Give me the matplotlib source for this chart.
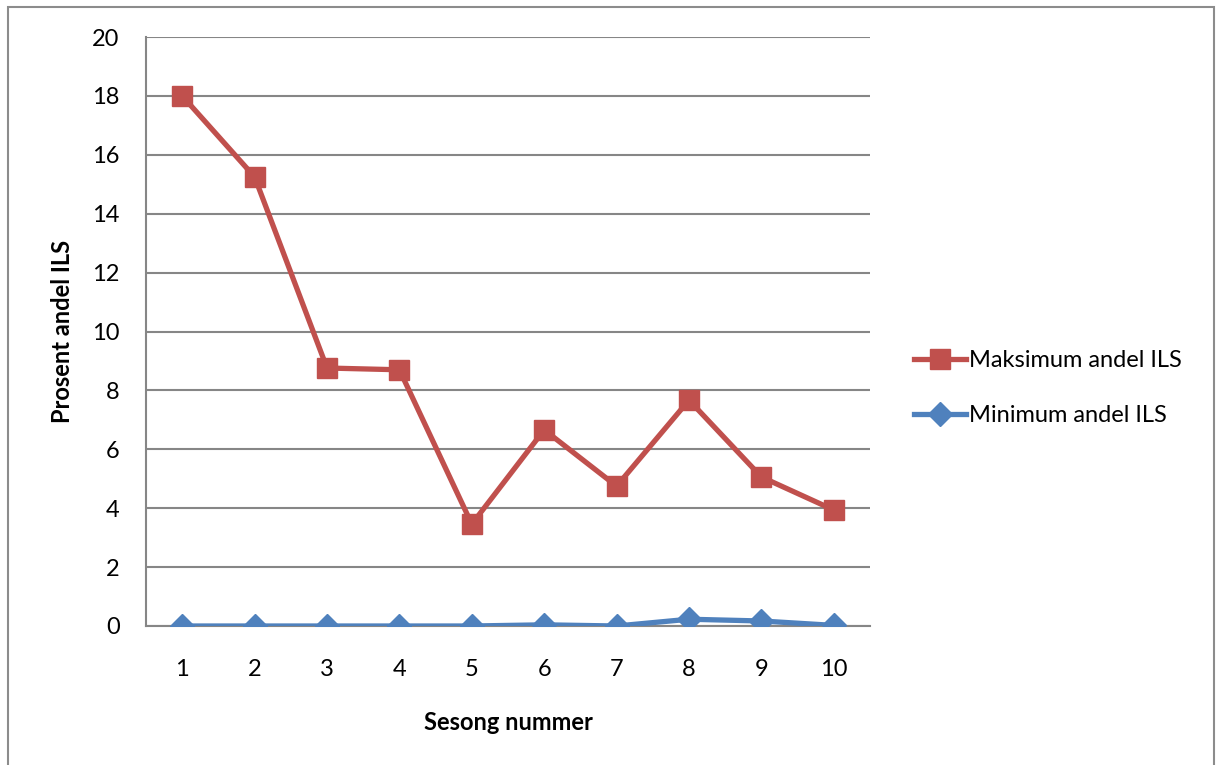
import numpy as np
import matplotlib.pyplot as plt
from matplotlib.patches import Rectangle

plt.rcParams['font.family'] = ['Lato', 'DejaVu Sans']

sesong = [1, 2, 3, 4, 5, 6, 7, 8, 9, 10]
maks_ils = [18.0, 15.25, 8.76, 8.7, 3.46, 6.66, 4.75, 7.67, 5.06, 3.94]
min_ils = [0.0, 0.0, 0.0, 0.0, 0.0, 0.04, 0.0, 0.23, 0.17, 0.02]
yticks = [0, 2, 4, 6, 8, 10, 12, 14, 16, 18, 20]

red = '#C0504D'
blue = '#4F81BD'
grid = '#868686'

fig = plt.figure(figsize=(12.17, 7.65), dpi=100)
ax = fig.add_axes([146 / 1217, 1 - 626 / 765, 724 / 1217, 589 / 765])

# outer frame round the chart
fig.patches.append(Rectangle((8 / 1217, -0.05), 1206 / 1217, 1.05 - 7 / 765,
                             transform=fig.transFigure, fill=False,
                             edgecolor='#8c8c8c', linewidth=1.5))

ax.plot(sesong, maks_ils, color=red, lw=3.8, marker='s', ms=15,
        label='Maksimum andel ILS', zorder=3)
ax.plot(sesong, min_ils, color=blue, lw=3.8, marker='D', ms=12,
        label='Minimum andel ILS', zorder=3)

ax.set_xlim(0.5, 10.5)
ax.set_ylim(0, 20)
ax.set_xticks(sesong)
ax.set_yticks(yticks)
ax.tick_params(axis='both', length=0, labelsize=17)
ax.tick_params(axis='y', pad=19)
ax.tick_params(axis='x', pad=24)

for y in yticks:
    ax.axhline(y, color=grid, lw=1.5, zorder=1)
for side in ['top', 'right']:
    ax.spines[side].set_visible(False)
ax.spines['left'].set_color(grid)
ax.spines['left'].set_linewidth(1.5)
ax.spines['bottom'].set_color(grid)
ax.spines['bottom'].set_linewidth(1.5)

ax.set_xlabel('Sesong nummer', fontsize=17, fontweight='bold', labelpad=22)
ax.set_ylabel('Prosent andel ILS', fontsize=17, fontweight='bold', labelpad=13)

fig.legend(loc='center left', bbox_to_anchor=(905 / 1217, 1 - 388 / 765),
           frameon=False, fontsize=17, handlelength=2.2, handletextpad=0.1,
           labelspacing=1.45, borderaxespad=0)

fig.savefig('out.png', dpi=100)
